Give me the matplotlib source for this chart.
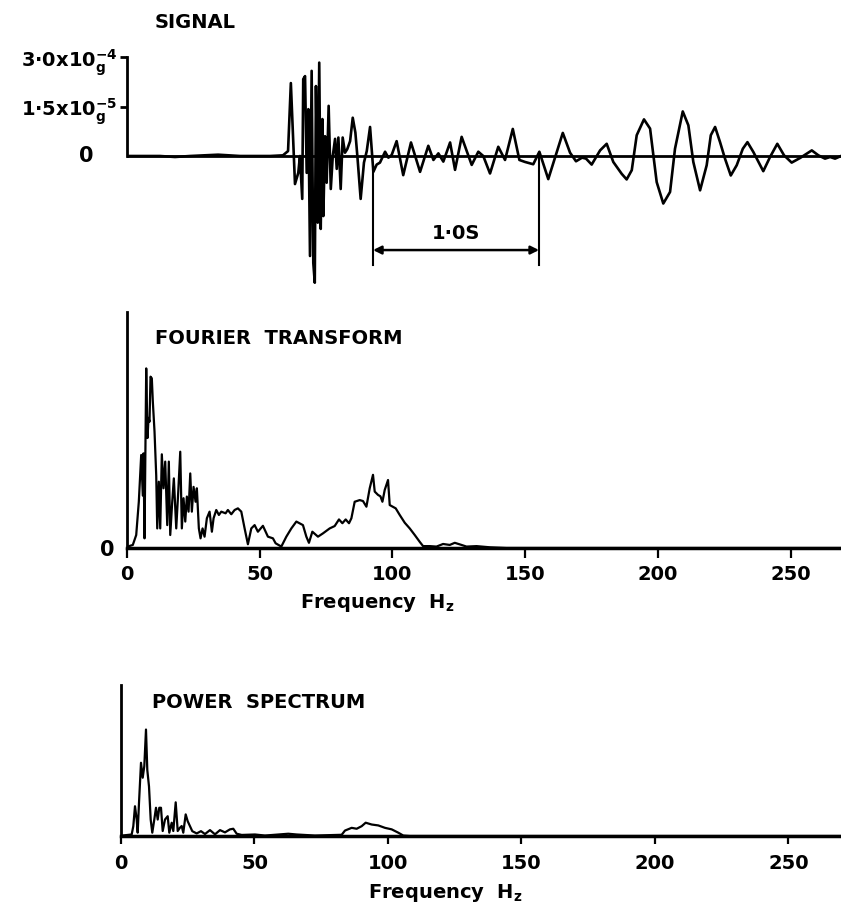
import numpy as np
import matplotlib.pyplot as plt

plt.rcParams['font.family'] = 'DejaVu Sans'
plt.rcParams['font.weight'] = 'bold'
plt.rcParams['mathtext.fontset'] = 'custom'
plt.rcParams['mathtext.rm'] = 'DejaVu Sans:bold'
plt.rcParams['mathtext.it'] = 'DejaVu Sans:bold'
plt.rcParams['mathtext.bf'] = 'DejaVu Sans:bold'

# ---- signal (time in s, amplitude in units of the axis labels) ----
sig_t = [0.000, 0.200, 0.291, 0.382, 0.552, 0.685, 0.867, 0.945, 0.976, 0.993,
         1.018, 1.038, 1.048, 1.062, 1.068, 1.079, 1.089, 1.099, 1.109, 1.119,
         1.129, 1.138, 1.145, 1.156, 1.165, 1.174, 1.184, 1.190, 1.200, 1.210,
         1.222, 1.235, 1.247, 1.261, 1.271, 1.281, 1.295, 1.307, 1.321, 1.335,
         1.352, 1.368, 1.384, 1.396, 1.416, 1.436, 1.453, 1.473, 1.493, 1.513,
         1.533, 1.564, 1.584, 1.604, 1.634, 1.674, 1.721, 1.776, 1.826, 1.857,
         1.887, 1.917, 1.958, 1.988, 2.028, 2.089, 2.129, 2.159, 2.200, 2.250,
         2.291, 2.338, 2.378, 2.412, 2.462, 2.499, 2.553, 2.641, 2.685, 2.721,
         2.758, 2.782, 2.816, 2.867, 2.907, 2.947, 2.998, 3.028, 3.059, 3.089,
         3.133, 3.170, 3.210, 3.250, 3.291, 3.321, 3.368, 3.402, 3.432, 3.473,
         3.513, 3.538, 3.564, 3.594, 3.624, 3.659, 3.695, 3.732, 3.760, 3.796,
         3.856, 3.897, 3.941, 3.982, 4.028, 4.079, 4.119, 4.150, 4.190, 4.230,
         4.261, 4.291, 4.327]
sig_a = [0.00, 0.00, -0.03, 0.00, 0.04, 0.00, 0.00, 0.02, 0.15, 2.21,
         -0.85, -0.51, 0.00, -1.30, 2.33, 2.42, -0.51, 1.42, -3.03, 2.58,
         -3.24, -3.84, 2.12, -2.02, 2.83, -2.21, 1.12, -1.82, 0.60, -0.81,
         1.52, -1.00, 0.00, 0.52, -0.39, 0.56, -1.00, 0.56, 0.10, 0.21,
         0.45, 1.16, 0.71, 0.00, -1.30, -0.20, 0.15, 0.88, -0.48, -0.26,
         -0.20, 0.13, -0.05, 0.03, 0.45, -0.58, 0.41, -0.48, 0.31, -0.12,
         0.08, -0.17, 0.41, -0.42, 0.58, -0.27, 0.13, 0.00, -0.53, 0.28,
         -0.12, 0.82, -0.12, -0.18, -0.25, 0.13, -0.70, 0.70, 0.10, -0.16,
         -0.05, -0.08, -0.26, 0.17, 0.37, -0.18, -0.54, -0.71, -0.43, 0.63,
         1.11, 0.83, -0.79, -1.44, -1.09, 0.22, 1.35, 0.93, -0.18, -1.04,
         -0.28, 0.63, 0.88, 0.42, -0.08, -0.59, -0.28, 0.22, 0.42, 0.12,
         -0.46, -0.03, 0.37, 0.02, -0.20, -0.06, 0.07, 0.17, 0.02, -0.08,
         -0.03, -0.08, 0.00]
sig_ticks = [0, 1.5, 3.0]
sig_ticklabels = ['0', '1·5x$10^{-5}_{g}$', '3·0x$10^{-4}_{g}$']

# ---- Fourier transform (Hz, arbitrary amplitude 0-100) ----
ft_f = [0.0, 2.19, 3.47, 4.45, 5.35, 5.96, 6.22, 6.60, 6.98, 7.24,
        7.73, 8.11, 8.48, 8.86, 9.35, 9.73, 10.37, 11.01, 11.39, 11.99,
        12.52, 13.12, 13.76, 14.40, 15.16, 15.76, 16.29, 17.04, 17.65, 18.55,
        19.31, 20.06, 20.66, 21.30, 21.95, 22.55, 23.19, 23.83, 24.43, 25.08,
        25.83, 26.32, 27.07, 27.71, 28.47, 29.22, 30.09, 31.11, 31.98, 32.62,
        33.63, 34.62, 35.52, 37.14, 38.01, 39.29, 40.54, 41.78, 43.06, 44.31,
        45.55, 46.83, 48.08, 49.32, 51.21, 53.09, 54.98, 55.99, 58.14, 60.03,
        61.92, 63.80, 66.29, 67.57, 68.55, 69.83, 71.95, 73.83, 76.36, 78.24,
        79.86, 81.15, 82.39, 83.64, 84.54, 85.78, 87.67, 88.91, 90.20, 91.44,
        92.68, 93.33, 94.57, 95.48, 96.23, 97.10, 98.34, 98.98, 101.24, 102.75,
        104.64, 106.52, 108.41, 110.29, 111.54, 114.06, 116.59, 119.08, 121.60, 123.49,
        126.02, 127.90, 131.67, 136.69, 142.99, 269.0]
ft_a = [0.5, 1.3, 5.5, 19.6, 39.4, 22.2, 40.1, 4.1, 46.6, 76.1,
        46.6, 55.1, 53.5, 72.6, 71.9, 62.0, 49.3, 30.7, 8.3, 28.1,
        8.3, 39.7, 25.3, 36.6, 9.7, 36.6, 5.5, 19.6, 29.5, 8.3,
        23.9, 40.8, 8.3, 21.1, 11.2, 21.8, 15.4, 31.6, 15.4, 25.9,
        19.6, 25.3, 8.3, 4.1, 8.3, 4.8, 12.6, 15.4, 6.9, 12.6,
        16.1, 14.0, 15.4, 14.7, 16.1, 14.3, 16.1, 16.8, 15.4, 8.3,
        1.6, 8.3, 9.7, 6.9, 9.4, 4.8, 4.1, 2.0, 0.6, 4.8,
        8.3, 11.2, 9.7, 4.8, 2.2, 6.9, 4.8, 6.2, 8.3, 9.3,
        12.1, 10.5, 12.1, 10.5, 12.6, 19.6, 20.3, 19.9, 17.5, 25.3,
        31.0, 23.9, 22.5, 21.9, 19.6, 24.6, 28.8, 18.2, 16.8, 14.0,
        10.7, 8.3, 5.5, 2.6, 0.8, 0.8, 0.6, 1.7, 1.3, 2.2,
        1.3, 0.6, 0.8, 0.3, 0.0, 0.0]

# ---- power spectrum (Hz, arbitrary 0-100) ----
ps_f = [0.5, 4.00, 4.61, 5.24, 5.88, 6.25, 6.74, 7.49, 8.13, 8.73,
        9.36, 9.85, 10.49, 11.12, 11.72, 12.47, 13.11, 13.75, 14.34, 14.98,
        15.62, 16.48, 17.49, 18.09, 18.99, 19.59, 20.49, 21.24, 22.10, 22.73,
        23.33, 24.23, 24.98, 25.84, 26.70, 28.35, 29.96, 31.46, 33.33, 35.21,
        37.08, 38.95, 40.82, 42.06, 43.33, 45.21, 50.19, 53.93, 62.66, 65.81,
        72.66, 82.66, 83.90, 86.40, 88.28, 90.15, 91.65, 93.90, 96.37, 98.88,
        101.39, 103.86, 105.73, 108.2, 269.7]
ps_a = [0.3, 1.0, 6.5, 19.7, 10.9, 2.2, 21.9, 48.5, 38.6, 46.3,
        70.5, 43.7, 32.8, 10.9, 2.2, 10.9, 18.7, 10.9, 18.7, 18.7,
        3.3, 10.9, 13.1, 2.2, 8.8, 3.3, 22.3, 3.3, 5.5, 6.6,
        2.2, 14.3, 9.8, 6.5, 3.2, 1.7, 3.2, 1.3, 3.9, 1.1,
        3.9, 2.4, 4.4, 4.8, 1.5, 0.7, 1.0, 0.3, 1.5, 1.0,
        0.3, 0.8, 3.6, 5.4, 4.8, 6.5, 8.8, 7.6, 7.0, 5.4,
        4.4, 2.2, 0.3, 0.0, 0.0]

freq_ticks = [0, 50, 100, 150, 200, 250]

W, H = 841, 916


def box(left, top, right, bottom):
    # pixel box -> figure fraction
    return [left / W, 1 - bottom / H, (right - left) / W, (bottom - top) / H]


fig = plt.figure(figsize=(W / 100, H / 100), dpi=100, facecolor='white')

# ==================== SIGNAL ====================
ax1 = fig.add_axes(box(127, 57, 841, 289))
ax1.plot(sig_t, sig_a, color='black', linewidth=1.9, solid_joinstyle='round')
ax1.axhline(0, color='black', linewidth=2)
ax1.set_xlim(0, 4.327)
ax1.set_ylim(-4.03, 3.0)
for s in ['top', 'right', 'bottom']:
    ax1.spines[s].set_visible(False)
ax1.spines['left'].set_bounds(0, 3.0)
ax1.spines['left'].set_linewidth(2)
ax1.set_xticks([])
ax1.set_yticks(sig_ticks[1:])
ax1.set_yticklabels(sig_ticklabels[1:], fontsize=14, fontweight='bold')
ax1.tick_params(axis='y', direction='out', length=5, width=2, pad=2)
ax1.annotate(sig_ticklabels[0], xy=(0, 0), xycoords=('axes fraction', 'data'),
             xytext=(-24, 0), textcoords='offset points', ha='right', va='center',
             fontsize=15, fontweight='bold')

# 1.0 s bar
t1, t2 = 1.491, 2.497
ax1.plot([t1, t1], [-0.42, -3.30], color='black', linewidth=1.5)
ax1.plot([t2, t2], [0.0, -3.30], color='black', linewidth=1.5)
ax1.annotate('', xy=(t1, -2.85), xytext=(t2, -2.85),
             arrowprops=dict(arrowstyle='<|-|>', color='black', lw=1.8,
                             mutation_scale=12, shrinkA=0, shrinkB=0))
ax1.text((t1 + t2) / 2, -2.35, '1·0S', ha='center', va='center',
         fontsize=14, fontweight='bold')

fig.text(155 / W, 1 - 22 / H, 'SIGNAL', ha='left', va='center',
         fontsize=14, fontweight='bold')

# ==================== FOURIER TRANSFORM ====================
ax2 = fig.add_axes(box(127, 312, 841, 548))
ax2.plot(ft_f, ft_a, color='black', linewidth=1.6, solid_joinstyle='round')
ax2.set_xlim(0, 269)
ax2.set_ylim(0, 100)
for s in ['top', 'right']:
    ax2.spines[s].set_visible(False)
ax2.spines['left'].set_linewidth(2)
ax2.spines['bottom'].set_linewidth(2.5)
ax2.set_xticks(freq_ticks)
ax2.set_xticklabels([str(v) for v in freq_ticks], fontsize=14, fontweight='bold')
ax2.tick_params(axis='x', direction='out', length=7, width=1.6, pad=5)
ax2.set_yticks([0])
ax2.set_yticklabels(['0'], fontsize=15, fontweight='bold')
ax2.tick_params(axis='y', length=0, pad=9)

fig.text(155 / W, 1 - 338 / H, 'FOURIER  TRANSFORM', ha='left', va='center',
         fontsize=14, fontweight='bold')
fig.text(300 / W, 1 - 603 / H, 'Frequency  $H_z$', ha='left', va='center',
         fontsize=14, fontweight='bold')

# ==================== POWER SPECTRUM ====================
ax3 = fig.add_axes(box(121, 685, 841, 836))
ax3.plot(ps_f, ps_a, color='black', linewidth=1.6, solid_joinstyle='round')
ax3.set_xlim(0, 269.7)
ax3.set_ylim(0, 100)
for s in ['top', 'right']:
    ax3.spines[s].set_visible(False)
ax3.spines['left'].set_linewidth(2)
ax3.spines['bottom'].set_linewidth(2.5)
ax3.set_xticks(freq_ticks)
ax3.set_xticklabels([str(v) for v in freq_ticks], fontsize=14, fontweight='bold')
ax3.tick_params(axis='x', direction='out', length=6, width=1.6, pad=7)
ax3.set_yticks([])

fig.text(152 / W, 1 - 703 / H, 'POWER  SPECTRUM', ha='left', va='center',
         fontsize=14, fontweight='bold')
fig.text(368 / W, 1 - 893 / H, 'Frequency  $H_z$', ha='left', va='center',
         fontsize=14, fontweight='bold')

fig.savefig('out.png', dpi=100, facecolor='white')
